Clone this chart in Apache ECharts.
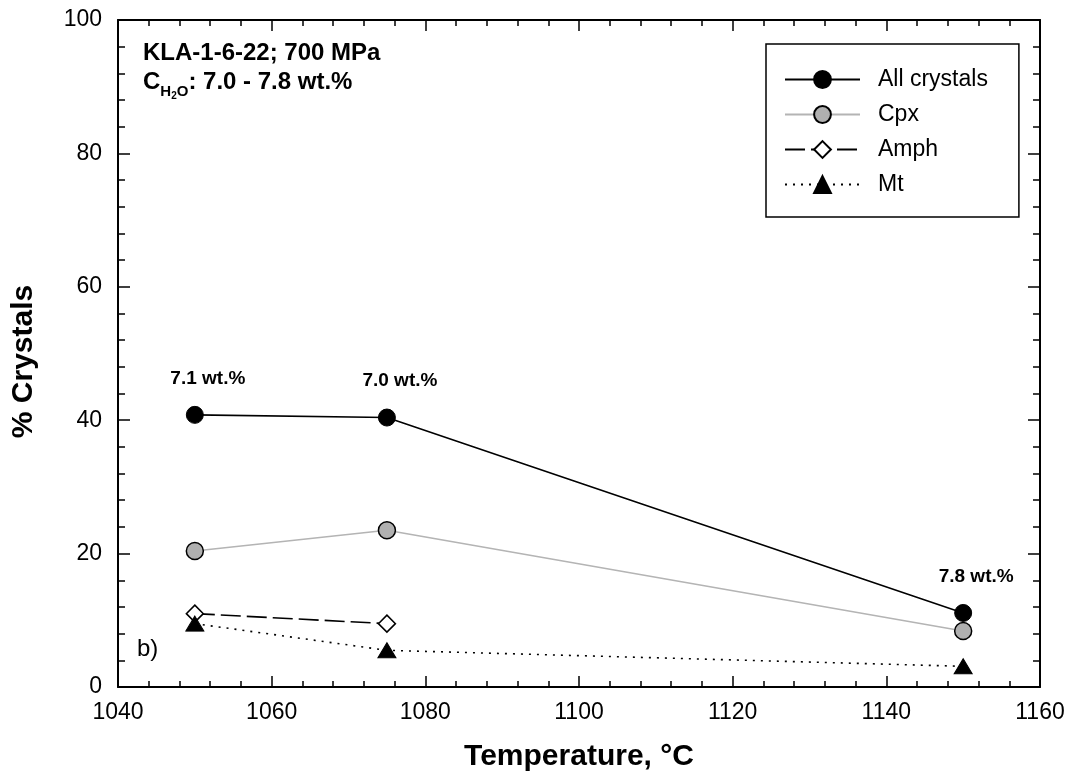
<!DOCTYPE html>
<html>
<head>
<meta charset="utf-8">
<script src="https://cdn.jsdelivr.net/npm/echarts@6/dist/echarts.min.js"></script>
<style>
  html, body { margin: 0; padding: 0; background: #fff; }
  #chart { width: 1077px; height: 783px; }
</style>
</head>
<body>
<div id="chart"></div>
<script>
// Run temperatures (°C) and crystal fractions (%)
const temperatures = [1050, 1075, 1150];
const allCrystals = [40.8, 40.4, 11.1];
const cpx = [20.4, 23.5, 8.4];
const amphTemps = [1050, 1075];
const amph = [11.0, 9.5];
const mt = [9.5, 5.5, 3.1];
// Melt water content for each run
const waterContent = ['7.1 wt.%', '7.0 wt.%', '7.8 wt.%'];

// Axis ranges and tick steps
const xTicks = [1040, 1060, 1080, 1100, 1120, 1140, 1160];
const yTicks = [0, 20, 40, 60, 80, 100];

const FONT = 'Liberation Sans, Arial, Helvetica, sans-serif';

function pairs(xs, ys) {
  return ys.map((y, i) => [xs[i], y]);
}

const chart = echarts.init(document.getElementById('chart'), null, { renderer: 'canvas' });

const axisLineStyle = { color: '#000', width: 2 };
const tickStyle = { color: '#000', width: 1.5 };

function xAxisDef(pos, showLabels) {
  return {
    type: 'value',
    position: pos,
    min: xTicks[0],
    max: xTicks[xTicks.length - 1],
    interval: xTicks[1] - xTicks[0],
    axisLine: { show: true, onZero: false, lineStyle: axisLineStyle },
    axisTick: { show: true, inside: true, length: 11, lineStyle: tickStyle },
    minorTick: { show: true, splitNumber: 5, length: 6, lineStyle: tickStyle },
    splitLine: { show: false },
    axisLabel: {
      show: showLabels, margin: 14, color: '#000',
      fontFamily: FONT, fontSize: 23,
      formatter: (v) => String(v)
    }
  };
}

function yAxisDef(pos, showLabels) {
  return {
    type: 'value',
    position: pos,
    min: yTicks[0],
    max: yTicks[yTicks.length - 1],
    interval: yTicks[1] - yTicks[0],
    axisLine: { show: true, onZero: false, lineStyle: axisLineStyle },
    axisTick: { show: true, inside: true, length: 12, lineStyle: tickStyle },
    minorTick: { show: true, splitNumber: 5, length: 7, lineStyle: tickStyle },
    splitLine: { show: false },
    axisLabel: {
      show: showLabels, margin: 16, color: '#000',
      fontFamily: FONT, fontSize: 23,
      formatter: (v) => String(v)
    }
  };
}

const xBottom = xAxisDef('bottom', true);
xBottom.name = 'Temperature, °C';
xBottom.nameLocation = 'middle';
xBottom.nameGap = 55;
xBottom.nameTextStyle = { color: '#000', fontFamily: FONT, fontSize: 30, fontWeight: 'bold' };

const yLeft = yAxisDef('left', true);
yLeft.name = '% Crystals';
yLeft.nameLocation = 'middle';
yLeft.nameGap = 79;
yLeft.nameTextStyle = { color: '#000', fontFamily: FONT, fontSize: 30, fontWeight: 'bold', padding: [0, 16, 0, 0] };

const option = {
  backgroundColor: '#fff',
  animation: false,
  grid: { left: 118, right: 37, top: 20, bottom: 96, containLabel: false },
  xAxis: [xBottom, xAxisDef('top', false)],
  yAxis: [yLeft, yAxisDef('right', false)],
  legend: {
    left: 766,
    top: 44,
    orient: 'vertical',
    align: 'left',
    itemWidth: 75,
    itemHeight: 21,
    itemGap: 12,
    padding: [24, 31, 21, 18],
    borderColor: '#000',
    borderWidth: 1.5,
    backgroundColor: '#fff',
    textStyle: {
      color: '#000', fontFamily: FONT, fontSize: 23, lineHeight: 21,
      padding: [0, 0, 0, 13]
    },
    data: ['All crystals', 'Cpx', 'Amph', 'Mt']
  },
  graphic: [
    {
      type: 'text', left: 143, top: 41, z: 10,
      style: { text: 'KLA-1-6-22; 700 MPa', fill: '#000', font: 'bold 24px ' + FONT }
    },
    {
      type: 'text', left: 143, top: 70, z: 10,
      style: {
        text: '{b|C}{s|H}{t|2}{s|O}{b|: 7.0 - 7.8 wt.%}',
        fill: '#000',
        rich: {
          b: { fontFamily: FONT, fontWeight: 'bold', fontSize: 24, lineHeight: 24, verticalAlign: 'top', fill: '#000' },
          s: { fontFamily: FONT, fontWeight: 'bold', fontSize: 15, lineHeight: 15, padding: [14, 0, 0, 0], verticalAlign: 'top', fill: '#000' },
          t: { fontFamily: FONT, fontWeight: 'bold', fontSize: 10, lineHeight: 10, padding: [21, 0, 0, 0], verticalAlign: 'top', fill: '#000' }
        }
      }
    },
    {
      type: 'text', left: 137, top: 637, z: 10,
      style: { text: 'b)', fill: '#000', font: '24px ' + FONT }
    }
  ],
  series: [
    {
      name: 'All crystals',
      type: 'line',
      data: pairs(temperatures, allCrystals),
      symbol: 'circle',
      symbolSize: 17,
      z: 5,
      lineStyle: { color: '#000', width: 1.6 },
      itemStyle: { color: '#000', borderColor: '#000', borderWidth: 1 },
      label: {
        show: true,
        position: 'top',
        distance: 5,
        offset: [13, -13],
        color: '#000',
        fontFamily: FONT,
        fontSize: 19,
        fontWeight: 'bold',
        formatter: (p) => waterContent[p.dataIndex]
      }
    },
    {
      name: 'Cpx',
      type: 'line',
      data: pairs(temperatures, cpx),
      symbol: 'circle',
      symbolSize: 17,
      z: 4,
      lineStyle: { color: '#b4b4b4', width: 1.6 },
      itemStyle: { color: '#b0b0b0', borderColor: '#000', borderWidth: 1.5 }
    },
    {
      name: 'Amph',
      type: 'line',
      data: pairs(amphTemps, amph),
      symbol: 'diamond',
      symbolSize: 17,
      z: 4,
      lineStyle: { color: '#000', width: 1.6, type: [20, 6] },
      itemStyle: { color: '#fff', borderColor: '#000', borderWidth: 1.5 }
    },
    {
      name: 'Mt',
      type: 'line',
      data: pairs(temperatures, mt),
      symbol: 'triangle',
      symbolSize: [18, 15],
      z: 4,
      lineStyle: { color: '#000', width: 1.6, type: [2, 6] },
      itemStyle: { color: '#000', borderColor: '#000', borderWidth: 1 }
    }
  ]
};

chart.setOption(option);
</script>
</body>
</html>
